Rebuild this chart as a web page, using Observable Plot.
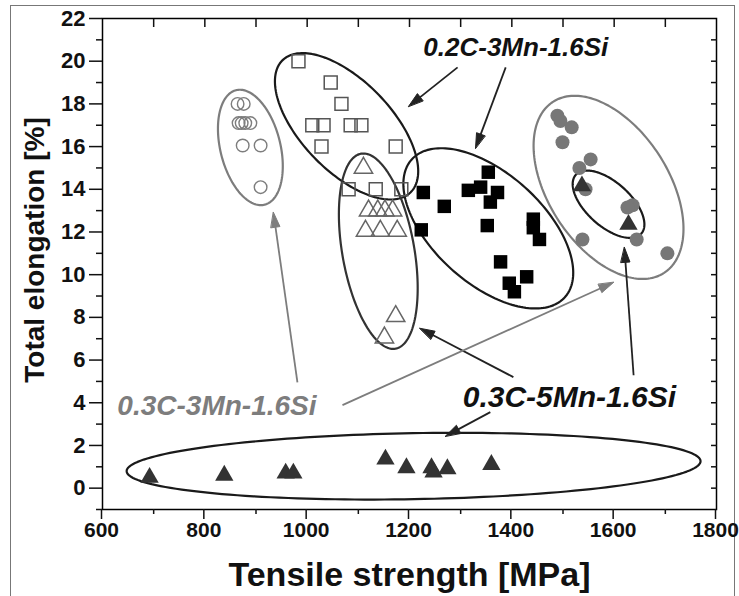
<!DOCTYPE html>
<html><head><meta charset="utf-8">
<script src="https://cdn.jsdelivr.net/npm/d3@7"></script>
<script src="https://cdn.jsdelivr.net/npm/@observablehq/plot@0.6"></script>
<style>
body{margin:0;background:#fff;}
#chart{position:relative;width:739px;height:596px;overflow:hidden;}
#chart svg{font-family:"Liberation Sans",Arial,sans-serif;position:absolute;left:0;top:0;}
#border{position:absolute;left:10px;top:5px;width:725px;height:620px;border:1px solid #777;box-sizing:border-box;}
</style></head><body><div id="chart"><div id="border"></div></div>
<script>
// ---- data (tensile strength MPa, total elongation %) ----
const openCircleTS = [864, 876, 866, 872, 879, 889, 874, 909, 909];
const openCircleEL = [18.0, 18.0, 17.1, 17.1, 17.1, 17.1, 16.05, 16.05, 14.1];

const openSquareTS = [983, 1046, 1067, 1010, 1032, 1085, 1106, 1028, 1173, 1081, 1134, 1184];
const openSquareEL = [20, 19, 18, 17, 17, 17, 17, 16, 16, 14, 14, 14];

const openTriTS = [1110, 1120, 1138, 1152, 1167, 1114, 1143, 1176, 1173, 1151];
const openTriEL = [15, 13, 13, 13, 13, 12.05, 12.05, 12.05, 8.05, 7.05];

const fillSquareTS = [1354, 1339, 1315, 1372, 1358, 1227, 1268, 1352, 1223, 1442, 1442, 1454, 1378, 1429, 1395, 1405];
const fillSquareEL = [14.8, 14.1, 13.95, 13.85, 13.4, 13.85, 13.2, 12.3, 12.1, 12.6, 12.2, 11.65, 10.6, 9.9, 9.6, 9.2];

const fillCircleTS = [1489, 1495, 1517, 1499, 1554, 1532, 1544, 1636, 1626, 1538, 1644, 1704];
const fillCircleEL = [17.45, 17.2, 16.9, 16.2, 15.4, 15.0, 14.0, 13.25, 13.15, 11.65, 11.65, 11.0];

const fillTriTS = [1537, 1628];
const fillTriEL = [14.15, 12.35];

const lowTriTS = [692, 838, 958, 973, 1153, 1194, 1243, 1247, 1274, 1360];
const lowTriEL = [0.5, 0.6, 0.7, 0.7, 1.35, 0.95, 0.95, 0.75, 0.9, 1.1];

// ellipse annotations: centre (data), semi-axes (px), tilt (deg)
const ellCx = [889, 1077, 1139, 1354, 1589, 1589, 1208];
const ellCy = [15.96, 16.95, 11.1, 12.17, 14.09, 13.3, 1.03];
const ellA = [59, 92, 99, 103, 102, 44, 287];
const ellB = [30, 45, 36, 55, 60, 22, 33];
const ellDeg = [76, 46, 80, 42, 57, 42, -1];
const ellGray = [true, false, false, false, true, false, false];

// arrows (data units): tail -> tip
const arrX1 = [1294, 1388, 981, 1069, 1403, 1638, 1358];
const arrY1 = [19.71, 19.71, 4.96, 3.89, 5.2, 5.29, 3.56];
const arrX2 = [1198, 1329, 934, 1599, 1220, 1620, 1270];
const arrY2 = [17.88, 15.92, 12.92, 9.64, 7.49, 11.28, 2.43];
const arrGray = [false, false, true, true, false, false, false];

const labelText = ["0.2C-3Mn-1.6Si", "0.3C-3Mn-1.6Si", "0.3C-5Mn-1.6Si"];
const labelTS = [1227, 629, 1304];
const labelEL = [20.22, 3.42, 3.79];

const xTicks = [600, 800, 1000, 1200, 1400, 1600, 1800];
const yTicks = [0, 2, 4, 6, 8, 10, 12, 14, 16, 18, 20, 22];

// ---- build ----
const W = 739, H = 596, mL = 102, mR = 23, mT = 18, mB = 87;
const kx = (W - mL - mR) / (1800 - 600);
const ky = (H - mT - mB) / (22 - (-1));
const pts = (xs, ys) => xs.map((x, i) => ({x, y: ys[i]}));
const GRAY = "#7d7d7d", DARK = "#1a1a1a";

function ellipsePts(cx, cy, a, b, deg) {
  const th = deg * Math.PI / 180, out = [];
  for (let i = 0; i < 180; i++) {
    const t = i / 180 * 2 * Math.PI;
    const dx = a * Math.cos(t) * Math.cos(th) - b * Math.sin(t) * Math.sin(th);
    const dy = a * Math.cos(t) * Math.sin(th) + b * Math.sin(t) * Math.cos(th);
    out.push({x: cx + dx / kx, y: cy - dy / ky});
  }
  return out;
}

const ellipseMarks = ellCx.map((cx, i) => Plot.line(ellipsePts(cx, ellCy[i], ellA[i], ellB[i], ellDeg[i]), {
  x: "x", y: "y", curve: "linear-closed",
  stroke: ellGray[i] ? GRAY : (i === 2 ? "#333" : DARK),
  strokeWidth: 2.2
}));

// arrow shafts and filled heads, geometry in pixels then mapped back to data
const HL = 15, HW = 4.5;
const shafts = [], heads = [];
arrX1.forEach((x1, i) => {
  const y1 = arrY1[i], x2 = arrX2[i], y2 = arrY2[i];
  const dxp = (x2 - x1) * kx, dyp = -(y2 - y1) * ky;
  const len = Math.hypot(dxp, dyp), ux = dxp / len, uy = dyp / len;
  const bx = -ux * (HL - 2), by = -uy * (HL - 2);
  shafts.push({x1, y1, x2: x2 + bx / kx, y2: y2 - by / ky, g: arrGray[i]});
  const baseX = -ux * HL, baseY = -uy * HL;
  const corners = [[0, 0], [baseX - uy * HW, baseY + ux * HW], [baseX + uy * HW, baseY - ux * HW]];
  corners.forEach(([px, py]) => heads.push({id: i, x: x2 + px / kx, y: y2 - py / ky, g: arrGray[i]}));
});

const labels = labelText.map((t, i) => ({t, x: labelTS[i], y: labelEL[i], i}));

const bold = "bold";
const chart = Plot.plot({
  width: W, height: H,
  marginLeft: mL, marginRight: mR, marginTop: mT, marginBottom: mB,
  style: {background: "transparent", color: "#111"},
  x: {domain: [600, 1800]},
  y: {domain: [-1, 22]},
  marks: [
    ...ellipseMarks,
    Plot.dot(pts(openCircleTS, openCircleEL), {x: "x", y: "y", r: 6.3, stroke: GRAY, strokeWidth: 1.4, fill: "none"}),
    Plot.dot(pts(openSquareTS, openSquareEL), {x: "x", y: "y", symbol: "square", r: 7.3, stroke: "#555", strokeWidth: 1.5, fill: "none"}),
    Plot.dot(pts(openTriTS, openTriEL), {x: "x", y: "y", symbol: "triangle", r: 6.8, stroke: "#666", strokeWidth: 1.5, fill: "none"}),
    Plot.dot(pts(fillSquareTS, fillSquareEL), {x: "x", y: "y", symbol: "square", r: 7.6, fill: "#000", stroke: "none"}),
    Plot.dot(pts(fillCircleTS, fillCircleEL), {x: "x", y: "y", r: 7, fill: "#777", stroke: "none"}),
    Plot.dot(pts(fillTriTS, fillTriEL), {x: "x", y: "y", symbol: "triangle", r: 6.8, fill: "#333", stroke: "none"}),
    Plot.dot(pts(lowTriTS, lowTriEL), {x: "x", y: "y", symbol: "triangle", r: 6.8, fill: "#333", stroke: "none"}),
    Plot.link(shafts.filter(d => !d.g), {x1: "x1", y1: "y1", x2: "x2", y2: "y2", stroke: "#222", strokeWidth: 1.8}),
    Plot.link(shafts.filter(d => d.g), {x1: "x1", y1: "y1", x2: "x2", y2: "y2", stroke: GRAY, strokeWidth: 1.8}),
    Plot.line(heads.filter(d => !d.g), {x: "x", y: "y", z: "id", curve: "linear-closed", fill: "#222", stroke: "#222", strokeWidth: 1}),
    Plot.line(heads.filter(d => d.g), {x: "x", y: "y", z: "id", curve: "linear-closed", fill: GRAY, stroke: GRAY, strokeWidth: 1}),
    Plot.text(labels, {x: "x", y: "y", text: "t", textAnchor: "start", lineAnchor: "bottom",
      fontWeight: bold, fontStyle: "italic",
      fontSize: d => [26, 28, 30][d.i],
      fill: d => d.i === 1 ? GRAY : "#111"}),
    Plot.frame({stroke: "#000", strokeWidth: 1.5}),
    Plot.axisX({ticks: xTicks, tickSize: 10, tickPadding: 3, fontSize: 21, dx: -1, fontWeight: bold, label: null, tickFormat: d => String(d), strokeWidth: 1.5}),
    Plot.axisX({ticks: d3.range(700, 1800, 200), tickSize: 5, text: null, label: null, strokeWidth: 1.5}),
    Plot.axisX({anchor: "top", ticks: d3.range(700, 1800, 100), tickSize: 8, dy: 8, text: null, label: null, strokeWidth: 1.5}),
    Plot.axisY({ticks: yTicks, tickSize: 13, tickPadding: 4, fontSize: 22, fontWeight: bold, label: null, tickFormat: d => String(d), strokeWidth: 1.5}),
    Plot.axisY({ticks: d3.range(-1, 22, 2), tickSize: 6, text: null, label: null, strokeWidth: 1.5}),
    Plot.axisY({anchor: "right", ticks: d3.range(0, 22, 1), tickSize: 6, dx: -6, text: null, label: null, strokeWidth: 1.5}),
    Plot.text(["Total elongation [%]"], {frameAnchor: "left", dx: -59, dy: -14, rotate: -90, textAnchor: "middle", lineAnchor: "bottom", fontSize: 28, fontWeight: bold}),
    Plot.text(["Tensile strength [MPa]"], {frameAnchor: "bottom", dy: 76, textAnchor: "middle", lineAnchor: "bottom", fontSize: 34, fontWeight: bold})
  ]
});
document.getElementById("chart").appendChild(chart);
</script>
</body></html>
